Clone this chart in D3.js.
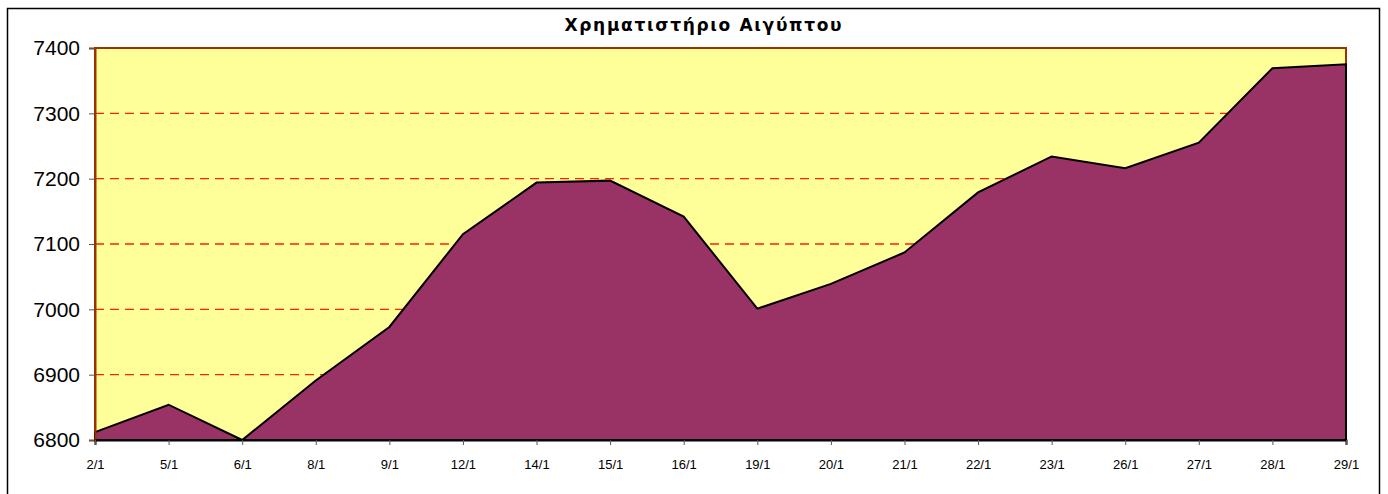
<!DOCTYPE html>
<html>
<head>
<meta charset="utf-8">
<script src="https://cdn.jsdelivr.net/npm/d3@7"></script>
<style>
  body { margin: 0; background: #fff; }
  svg { display: block; }
</style>
</head>
<body>
<div id="chart"></div>
<script>
const title = 'Χρηματιστήριο Αιγύπτου';
const dates = ['2/1', '5/1', '6/1', '8/1', '9/1', '12/1', '14/1', '15/1', '16/1',
               '19/1', '20/1', '21/1', '22/1', '23/1', '26/1', '27/1', '28/1', '29/1'];
const values = [6812, 6854, 6800, 6891, 6973, 7115, 7194, 7197, 7142,
                7001, 7039, 7087, 7179, 7234, 7216, 7255, 7369, 7375];
const yTicks = [6800, 6900, 7000, 7100, 7200, 7300, 7400];

const width = 1388;
const height = 494;
const plot = { left: 95, top: 48, right: 1346, bottom: 440 };

const svg = d3.select('#chart')
  .append('svg')
  .attr('width', width)
  .attr('height', height);

// outer chart frame
svg.append('rect')
  .attr('x', 7.5).attr('y', 8.5)
  .attr('width', 1372).attr('height', 500)
  .attr('fill', '#fff')
  .attr('stroke', '#000')
  .attr('stroke-width', 1.5);

svg.append('text')
  .attr('x', 703)
  .attr('y', 31)
  .attr('text-anchor', 'middle')
  .attr('font-family', 'DejaVu Sans, sans-serif')
  .attr('font-weight', 'bold')
  .attr('font-size', 17)
  .attr('textLength', 277)
  .attr('lengthAdjust', 'spacing')
  .text(title);

const x = d3.scalePoint()
  .domain(dates)
  .range([plot.left, plot.right]);

const y = d3.scaleLinear()
  .domain([6800, 7400])
  .range([plot.bottom, plot.top]);

// plot background
svg.append('rect')
  .attr('x', plot.left).attr('y', plot.top)
  .attr('width', plot.right - plot.left)
  .attr('height', plot.bottom - plot.top)
  .attr('fill', '#FFFF99')
  .attr('stroke', '#993300')
  .attr('stroke-width', 2);

// dashed gridlines
svg.append('g')
  .selectAll('line')
  .data(yTicks.slice(1, -1))
  .enter()
  .append('line')
  .attr('x1', plot.left).attr('x2', plot.right)
  .attr('y1', d => y(d)).attr('y2', d => y(d))
  .attr('stroke', '#FF2200')
  .attr('stroke-width', 1.3)
  .attr('stroke-dasharray', '9,6');

// the area
const area = d3.area()
  .x((d, i) => x(dates[i]))
  .y0(y(6800))
  .y1(d => y(d));

svg.append('path')
  .datum(values)
  .attr('d', area)
  .attr('fill', '#993366')
  .attr('stroke', '#000')
  .attr('stroke-width', 2)
  .attr('stroke-linejoin', 'miter');

// y axis
const yAxis = svg.append('g')
  .attr('transform', `translate(${plot.left},0)`)
  .call(d3.axisLeft(y).tickValues(yTicks).tickSize(6).tickPadding(9).tickFormat(d3.format('d')));
yAxis.select('.domain').attr('stroke', '#993300').attr('stroke-width', 2);
yAxis.selectAll('.tick line').attr('stroke', '#555');
yAxis.selectAll('text')
  .attr('font-family', 'Liberation Sans, Arial, sans-serif')
  .attr('font-size', 21)
  .attr('fill', '#000');

// x axis
const xAxis = svg.append('g')
  .attr('transform', `translate(0,${plot.bottom})`)
  .call(d3.axisBottom(x).tickSize(5).tickPadding(15));
xAxis.select('.domain').attr('stroke', '#000').attr('stroke-width', 2);
xAxis.selectAll('.tick line').attr('stroke', '#555');
xAxis.selectAll('text')
  .attr('font-family', 'Liberation Sans, Arial, sans-serif')
  .attr('font-size', 13)
  .attr('fill', '#000');
</script>
</body>
</html>
